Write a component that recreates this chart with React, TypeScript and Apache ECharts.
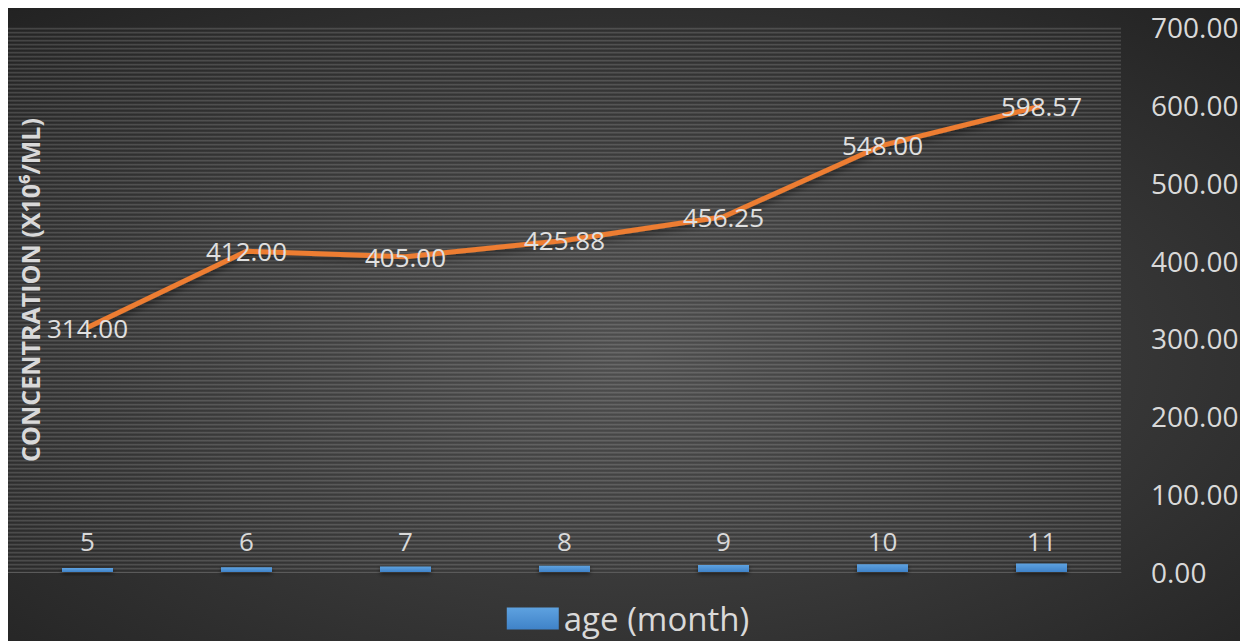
import React, { useEffect, useRef } from "react";
import * as echarts from "echarts";

const categories = ["5", "6", "7", "8", "9", "10", "11"];
const ageValues = [5, 6, 7, 8, 9, 10, 11];
const concentration = [314.0, 412.0, 405.0, 425.88, 456.25, 548.0, 598.57];
const yTicks = [0, 100, 200, 300, 400, 500, 600, 700];
const legendName = "age (month)";
const axisTitle = "CONCENTRATION (X10⁶/ML)";

const FONT = "'Open Sans', 'Noto Sans', sans-serif";

function makeStripe(): HTMLCanvasElement {
  const c = document.createElement("canvas");
  c.width = 4;
  c.height = 4;
  const ctx = c.getContext("2d")!;
  const alphas = [0.15, 0.08, 0.0, 0.03];
  alphas.forEach((a, i) => {
    ctx.fillStyle = `rgba(255,255,255,${a})`;
    ctx.fillRect(0, i, 4, 1);
  });
  return c;
}

export default function App() {
  const ref = useRef<HTMLDivElement>(null);
  useEffect(() => {
    document.body.style.overflow = "hidden";
    const chart = echarts.init(ref.current!, undefined, { renderer: "svg" });
    const stripe = makeStripe();
    chart.setOption({
      animation: false,
      backgroundColor: {
        type: "radial",
        x: 0.5,
        y: 0.55,
        r: 0.75,
        colorStops: [
          { offset: 0, color: "#4e4e4e" },
          { offset: 1, color: "#222222" },
        ],
      },
      textStyle: { fontFamily: FONT },
      grid: {
        left: 0,
        top: 19,
        width: 1113,
        height: 545,
        show: true,
        borderWidth: 0,
        backgroundColor: { image: stripe, repeat: "repeat" },
      },
      legend: {
        show: true,
        bottom: 1,
        left: "center",
        icon: "rect",
        itemWidth: 52,
        itemHeight: 22,
        textStyle: { color: "#d9d9d9", fontSize: 33, fontFamily: FONT },
        data: [legendName],
      },
      graphic: [
        {
          type: "text",
          x: 22,
          y: 282,
          rotation: Math.PI / 2,
          style: {
            text: axisTitle,
            fill: "#d9d9d9",
            font: `bold 25px ${FONT}`,
            align: "center",
            verticalAlign: "middle",
          },
        },
      ],
      xAxis: {
        type: "category",
        data: categories,
        axisLine: { show: true, lineStyle: { color: "#5a5a5a", width: 1 } },
        axisTick: { show: false },
        axisLabel: {
          inside: true,
          margin: 18,
          color: "#d9d9d9",
          fontSize: 26,
          fontFamily: FONT,
        },
      },
      yAxis: [
        {
          type: "value",
          position: "right",
          min: 0,
          max: 700,
          interval: 100,
          axisLine: { show: false },
          axisTick: { show: false },
          splitLine: { show: false },
          axisLabel: {
            margin: 30,
            color: "#d9d9d9",
            fontSize: 28,
            fontFamily: FONT,
            formatter: (v: number) => v.toFixed(2),
          },
        },
      ],
      series: [
        {
          name: legendName,
          type: "bar",
          data: ageValues,
          barWidth: 51,
          itemStyle: {
            color: {
              type: "linear",
              x: 0,
              y: 0,
              x2: 0,
              y2: 1,
              colorStops: [
                { offset: 0, color: "#5ea2e0" },
                { offset: 1, color: "#3f82c8" },
              ],
            },
            shadowColor: "rgba(0,0,0,0.55)",
            shadowBlur: 4,
            shadowOffsetY: 2,
          },
        },
        {
          name: "concentration",
          type: "line",
          data: concentration,
          symbol: "circle",
          symbolSize: 1,
          itemStyle: { color: "#ED7D31" },
          lineStyle: {
            color: "#ED7D31",
            width: 5,
            shadowColor: "rgba(0,0,0,0.5)",
            shadowBlur: 6,
            shadowOffsetY: 3,
          },
          label: {
            show: true,
            position: "inside",
            color: "#e0e0e0",
            fontSize: 26,
            fontFamily: FONT,
            formatter: (p: any) => Number(p.value).toFixed(2),
          },
          z: 5,
        },
      ],
    });
    return () => chart.dispose();
  }, []);
  return <div ref={ref} style={{ width: 1240, height: 633 }} />;
}
